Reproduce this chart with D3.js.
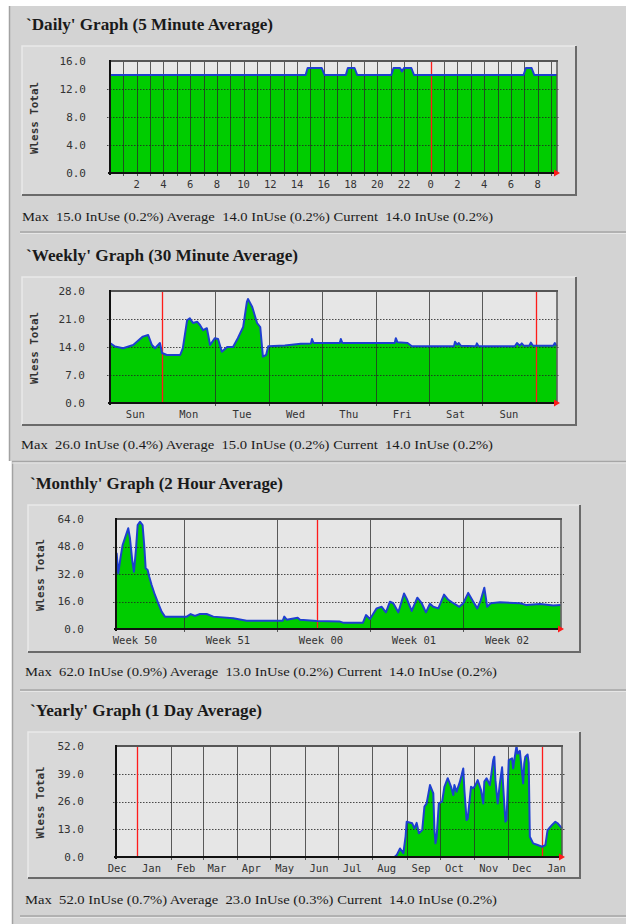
<!DOCTYPE html>
<html>
<head>
<meta charset="utf-8">
<script src="https://cdn.jsdelivr.net/npm/d3@7"></script>
<style>
  html, body { margin: 0; padding: 0; background: #fff; }
  svg { display: block; }
  text { white-space: pre; }
  .mono { font-family: "DejaVu Sans Mono", "Liberation Mono", monospace; }
</style>
</head>
<body>
<svg id="chart" width="626" height="924"></svg>
<script>
// ---------- Daily (5 minute average): hours relative to midnight ----------
const dailyHours  = [-24, -9.36, -9.21, -8.16, -7.94, -6.35, -6.2, -5.7, -5.5, -2.95, -2.78, -2.3, -2.15, -2.0, -1.45, -1.25, 6.95, 7.12, 7.55, 7.75, 9.45];
const dailyValues = [14, 14, 15, 15, 14, 14, 15, 15, 14, 14, 15, 15, 14.5, 15, 15, 14, 14, 15, 15, 14, 14];
const dailyGridHours = d3.range(-23, 10);
const dailyRedHours = [0];
const dailyTickHours = [-22, -20, -18, -16, -14, -12, -10, -8, -6, -4, -2, 0, 2, 4, 6, 8];
const dailyTickLabels = ["2", "4", "6", "8", "10", "12", "14", "16", "18", "20", "22", "0", "2", "4", "6", "8"];
const dailyYTicks = [0, 4, 8, 12, 16];
const dailyStats = [["Max", "15.0", "0.2%"], ["Average", "14.0", "0.2%"], ["Current", "14.0", "0.2%"]];

// ---------- Weekly (30 minute average): days relative to Monday 00:00 ----------
const weeklyDays = [-0.975, -0.88, -0.73, -0.54, -0.36, -0.26, -0.19, -0.13, -0.04, 0.0, 0.09, 0.34, 0.39, 0.47, 0.52, 0.58, 0.66, 0.71, 0.77, 0.84, 0.90, 0.99, 1.05, 1.12, 1.22, 1.33, 1.42, 1.52, 1.59, 1.61, 1.69, 1.78, 1.84, 1.89, 1.95, 1.99, 2.3, 2.6, 2.79, 2.81, 2.84, 3.33, 3.35, 3.38, 4.36, 4.38, 4.41, 4.60, 4.68, 5.47, 5.49, 5.53, 5.56, 5.60, 5.88, 5.90, 5.93, 6.61, 6.65, 6.70, 6.74, 6.78, 6.88, 6.91, 6.95, 7.33, 7.36, 7.395];
const weeklyValues = [15.0, 14.1, 13.7, 14.5, 16.6, 17.0, 14.5, 13.7, 15.0, 12.5, 12.0, 12.0, 13.7, 20.7, 21.2, 20.0, 20.3, 19.5, 18.2, 18.7, 14.5, 16.2, 16.0, 12.8, 14.0, 14.0, 16.2, 19.0, 25.3, 26.0, 24.0, 20.0, 19.0, 11.6, 12.0, 14.2, 14.4, 14.8, 14.9, 16.0, 15.0, 15.0, 16.0, 15.0, 15.0, 16.2, 15.2, 15.0, 14.2, 14.2, 15.3, 14.6, 15.0, 14.3, 14.2, 14.9, 14.2, 14.2, 15.0, 14.3, 14.9, 14.3, 14.3, 15.1, 14.3, 14.3, 15.0, 14.2];
const weeklyGridDays = [1, 2, 3, 4, 5, 6];
const weeklyRedDays = [0, 7];
const weeklyTickDays = [-0.5, 0.5, 1.5, 2.5, 3.5, 4.5, 5.5, 6.5];
const weeklyTickLabels = ["Sun", "Mon", "Tue", "Wed", "Thu", "Fri", "Sat", "Sun"];
const weeklyYTicks = [0, 7, 14, 21, 28];
const weeklyStats = [["Max", "26.0", "0.4%"], ["Average", "15.0", "0.2%"], ["Current", "14.0", "0.2%"]];

// ---------- Monthly (2 hour average): days relative to 1 January ----------
const monthlyDays = [-15.12, -15.07, -14.95, -14.77, -14.62, -14.37, -14.20, -14.07, -13.90, -13.77, -13.62, -13.49, -13.32, -13.12, -12.99, -12.89, -12.74, -12.62, -12.44, -12.19, -11.94, -11.69, -11.44, -9.80, -9.50, -9.18, -8.80, -8.30, -7.80, -6.30, -5.29, -2.58, -2.46, -2.28, -1.45, -1.28, -0.02, 1.73, 1.96, 3.46, 3.69, 3.99, 4.49, 4.87, 5.19, 5.49, 5.74, 6.12, 6.55, 6.79, 7.13, 7.55, 7.88, 8.20, 8.50, 8.75, 9.13, 9.56, 9.88, 10.26, 10.71, 11.01, 11.38, 11.76, 12.06, 12.32, 12.59, 12.81, 13.07, 13.77, 15.27, 15.78, 16.78, 17.78, 18.33];
const monthlyValues = [32.4, 44, 32.4, 42, 48.9, 54.7, 58.6, 52.8, 40.1, 33.3, 46, 60.5, 62.4, 60.5, 47.9, 35.3, 34.3, 30.4, 25.6, 19.8, 14.9, 10.1, 7.2, 7.2, 8.7, 7.6, 8.7, 8.7, 7.2, 6.2, 4.8, 4.8, 7.2, 5.4, 6.6, 5.4, 4.7, 4.3, 3.7, 3.7, 8.1, 5.8, 12, 12.9, 9.7, 15.9, 15, 9.7, 20.7, 17, 10.5, 18.2, 15, 9.7, 14.7, 12.9, 12, 20, 17, 15, 12.9, 15, 21, 15.9, 12, 16.7, 24, 12.9, 15, 15.5, 15, 13.9, 14.5, 13.7, 13.9];
const monthlyGridDays = [-10, -3, 4, 11];
const monthlyRedDays = [0];
const monthlyTickDays = [-13.7, -6.7, 0.3, 7.3, 14.3];
const monthlyTickLabels = ["Week 50", "Week 51", "Week 00", "Week 01", "Week 02"];
const monthlyYTicks = [0, 16, 32, 48, 64];
const monthlyStats = [["Max", "62.0", "0.9%"], ["Average", "13.0", "0.2%"], ["Current", "14.0", "0.2%"]];

// ---------- Yearly (1 day average): days relative to 1 January 2002 ----------
const yearlyDays = [-19, 232, 234, 237, 240, 242, 243, 248, 250, 252, 254, 257, 259, 261, 264, 267, 268, 269, 270, 272, 275, 277, 280, 283, 285, 286, 288, 291, 294, 295, 297, 298, 301, 303, 305, 307, 310, 312, 313, 315, 318, 321, 322, 323, 325, 327, 329, 330, 332, 333, 335, 338, 339, 340, 342, 343, 345, 348, 349, 350, 352, 353, 354, 357, 361, 365, 368, 370, 374, 377, 379, 383];
const yearlyValues = [0, 0, 0.9, 4, 1.8, 9.5, 16.5, 15.8, 13.4, 16, 11.1, 12.6, 23.6, 25.1, 33.7, 29.8, 12.6, 6.4, 9.5, 25.1, 26, 32.9, 36.9, 32.9, 29, 33.7, 30.6, 35.3, 41.5, 31.4, 17.3, 18, 32.9, 32.2, 33.7, 36, 31.4, 25.1, 35.3, 36.9, 33.7, 45.4, 47, 36, 25.1, 34.5, 42, 32.9, 16.5, 17.3, 45.4, 46.2, 41.5, 45.4, 52, 48.4, 49.7, 34.5, 44, 47, 48, 44, 9.5, 6.4, 5.6, 4.8, 5.6, 12.6, 15, 16.5, 15.8, 13.4];
const yearlyTickLabels = ["Dec", "Jan", "Feb", "Mar", "Apr", "May", "Jun", "Jul", "Aug", "Sep", "Oct", "Nov", "Dec", "Jan"];
const yearlyYTicks = [0, 13, 26, 39, 52];
const yearlyStats = [["Max", "52.0", "0.7%"], ["Average", "23.0", "0.3%"], ["Current", "14.0", "0.2%"]];

// ---------- font selection: first installed serif face ----------
function pickFont(candidates, fallback) {
  const ctx = document.createElement("canvas").getContext("2d");
  const probe = "Graph Minute Average InUse 0123456789 wWmMiIl";
  const widthOf = f => { ctx.font = "40px " + f; return ctx.measureText(probe).width; };
  const baseMono = widthOf("monospace"), baseSans = widthOf("sans-serif");
  for (const c of candidates) {
    if (widthOf(`"${c}", monospace`) !== baseMono || widthOf(`"${c}", sans-serif`) !== baseSans) {
      return `"${c}", ${fallback}`;
    }
  }
  return fallback;
}
const SERIF = pickFont(["Liberation Serif", "Tinos", "Times New Roman", "Times", "DejaVu Serif",
  "Noto Serif", "FreeSerif", "Nimbus Roman", "Nimbus Roman No9 L", "Noto Serif CJK SC",
  "Source Han Serif SC", "Bitstream Charter", "Georgia", "URW Bookman"], "serif");

// ---------- drawing ----------
const svg = d3.select("#chart");
const PAGE = "#d3d3d3";
const GREEN = "#00cc00";
const BLUE = "#1e3fd0";
const RED = "#ff1a1a";
const DAY = 864e5;
const yearOrigin = Date.UTC(2002, 0, 1);
const toDate = d => new Date(yearOrigin + d * DAY);

// page: two stacked grey sections on white
svg.append("rect").attr("width", 626).attr("height", 924).attr("fill", "#fff");
svg.append("rect").attr("x", 9).attr("y", 6).attr("width", 617).attr("height", 455).attr("fill", PAGE);
svg.append("rect").attr("x", 12).attr("y", 461).attr("width", 614).attr("height", 463).attr("fill", PAGE);
svg.append("line").attr("x1", 9.5).attr("x2", 9.5).attr("y1", 6).attr("y2", 461)
  .attr("stroke", "#a2a2a2").attr("stroke-width", 1.5);
svg.append("line").attr("x1", 12.5).attr("x2", 12.5).attr("y1", 461).attr("y2", 924)
  .attr("stroke", "#a2a2a2").attr("stroke-width", 1.5);

// horizontal rules between the sections
[[20, 232], [12, 461.5], [20, 690], [20, 916]].forEach(([x0, yy]) => {
  svg.append("line").attr("x1", x0).attr("x2", 626).attr("y1", yy).attr("y2", yy)
    .attr("stroke", "#a6a6a6").attr("stroke-width", 1.5);
  svg.append("line").attr("x1", x0).attr("x2", 626).attr("y1", yy + 1.5).attr("y2", yy + 1.5)
    .attr("stroke", "#e6e6e6").attr("stroke-width", 1);
});

const fmt1 = d3.format(".1f");

function drawPanel(p) {
  const [bx0, by0, bx1, by1] = p.box;
  const [px0, py0, px1, py1] = p.plot;
  const g = svg.append("g");

  // title
  g.append("text").style("font-family", SERIF).attr("x", p.titleX).attr("y", p.titleY)
    .attr("font-weight", "bold").attr("font-size", 16).attr("fill", "#1a1a1a")
    .attr("textLength", p.titleW).attr("lengthAdjust", "spacingAndGlyphs")
    .text(p.title);

  // graph image frame
  g.append("rect").attr("x", bx0).attr("y", by0).attr("width", bx1 - bx0).attr("height", by1 - by0)
    .attr("fill", "#d9d9d9");
  g.append("path").attr("d", `M${bx0},${by1}V${by0}H${bx1}`)
    .attr("fill", "none").attr("stroke", "#e9e9e9").attr("stroke-width", 1.5);
  g.append("path").attr("d", `M${bx0},${by1}H${bx1}V${by0}`)
    .attr("fill", "none").attr("stroke", "#6a6a6a").attr("stroke-width", 2);

  const x = p.x.range([px0, px1]);
  const y = d3.scaleLinear().domain([0, p.yMax]).range([py1, py0]);

  g.append("rect").attr("x", px0).attr("y", py0).attr("width", px1 - px0).attr("height", py1 - py0)
    .attr("fill", "#e6e6e6");

  const pts = p.xs.map((v, i) => ({ x: v, v: p.values[i] }));
  g.append("path").datum(pts)
    .attr("d", d3.area().x(d => x(d.x)).y0(py1).y1(d => y(d.v)))
    .attr("fill", GREEN);

  // vertical grid
  g.selectAll(null).data(p.grid).join("line")
    .attr("x1", d => Math.round(x(d)) + 0.5).attr("x2", d => Math.round(x(d)) + 0.5)
    .attr("y1", py0).attr("y2", py1 + 3)
    .attr("stroke", "#2a2a2a").attr("stroke-opacity", 0.75).attr("stroke-width", 1);

  // horizontal dotted grid
  g.selectAll(null).data(p.yTicks.filter(t => t > 0 && t < p.yMax)).join("line")
    .attr("x1", px0 - 3).attr("x2", px1 + 3)
    .attr("y1", d => Math.round(y(d)) + 0.5).attr("y2", d => Math.round(y(d)) + 0.5)
    .attr("stroke", "#222").attr("stroke-opacity", 0.8).attr("stroke-width", 1.2)
    .attr("stroke-dasharray", "1.5,1.5");

  // red period markers
  g.selectAll(null).data(p.red).join("line")
    .attr("x1", d => Math.round(x(d)) + 0.5).attr("x2", d => Math.round(x(d)) + 0.5)
    .attr("y1", py0).attr("y2", py1)
    .attr("stroke", RED).attr("stroke-width", 1.3);

  // outline of the series
  g.append("path").datum(pts)
    .attr("d", d3.line().x(d => x(d.x)).y(d => y(d.v)))
    .attr("fill", "none").attr("stroke", BLUE).attr("stroke-width", 2)
    .attr("stroke-linejoin", "round");

  // plot frame
  g.append("line").attr("x1", px0).attr("x2", px1 + 1).attr("y1", py0).attr("y2", py0)
    .attr("stroke", "#555").attr("stroke-width", 2);
  g.append("line").attr("x1", px1).attr("x2", px1).attr("y1", py0).attr("y2", py1)
    .attr("stroke", "#555").attr("stroke-width", 1.5);
  g.append("line").attr("x1", px0).attr("x2", px0).attr("y1", py0 - 1).attr("y2", py1 + 2)
    .attr("stroke", "#111").attr("stroke-width", 2);
  g.append("line").attr("x1", px0 - 2).attr("x2", px1).attr("y1", py1).attr("y2", py1)
    .attr("stroke", "#111").attr("stroke-width", 2);

  // end-of-axis arrow
  g.append("path")
    .attr("d", `M${px1 - 3},${py1 - 3.5}L${px1 + 3},${py1}L${px1 - 3},${py1 + 3.5}Z`)
    .attr("fill", RED);

  // y tick labels
  g.selectAll(null).data(p.yTicks).join("text").attr("class", "mono")
    .attr("x", px0 - p.yLabelGap).attr("y", d => y(d)).attr("dy", "0.36em")
    .attr("text-anchor", "end").attr("font-size", 11)
    .attr("fill", "#333").text(d => fmt1(d));

  // x tick labels
  g.selectAll(null).data(p.ticks).join("text").attr("class", "mono")
    .attr("x", d => x(d[0])).attr("y", py1 + 15)
    .attr("text-anchor", "middle").attr("font-size", 10.5)
    .attr("fill", "#333").text(d => d[1]);

  // y axis title
  const cy = (py0 + py1) / 2 + 1;
  g.append("text").attr("class", "mono")
    .attr("transform", `translate(${bx0 + 16},${cy}) rotate(-90)`)
    .attr("text-anchor", "middle")
    .attr("font-weight", "bold").attr("font-size", 10.5)
    .attr("fill", "#333").attr("textLength", 72).attr("lengthAdjust", "spacingAndGlyphs")
    .text("Wless Total");

  // summary line
  const summary = p.stats.map(([k, v, pc]) => `${k}  ${v} InUse (${pc})`).join(" ");
  g.append("text").style("font-family", SERIF).attr("x", p.sumX).attr("y", p.sumY)
    .attr("font-size", 12.5).attr("fill", "#1a1a1a")
    .attr("textLength", p.sumW).attr("lengthAdjust", "spacingAndGlyphs")
    .text(summary);
}

const yearStart = toDate(-19), yearEnd = toDate(383);
const yearMonths = d3.utcMonth.range(d3.utcMonth.floor(yearStart), yearEnd);
const yearRed = yearMonths.filter(d => d.getUTCMonth() === 0);

drawPanel({
  title: "`Daily' Graph (5 Minute Average)", titleX: 26, titleY: 30, titleW: 247,
  box: [22, 46, 576, 195], plot: [110, 61, 557, 173],
  x: d3.scaleLinear().domain([-24, 9.45]),
  xs: dailyHours, values: dailyValues, yMax: 16, yTicks: dailyYTicks,
  grid: dailyGridHours, red: dailyRedHours,
  ticks: dailyTickHours.map((h, i) => [h, dailyTickLabels[i]]),
  yLabelGap: 24, stats: dailyStats, sumX: 22, sumY: 221, sumW: 471
});

drawPanel({
  title: "`Weekly' Graph (30 Minute Average)", titleX: 26, titleY: 261, titleW: 272,
  box: [22, 277, 576, 425], plot: [110, 291, 557, 403],
  x: d3.scaleLinear().domain([-0.975, 7.4]),
  xs: weeklyDays, values: weeklyValues, yMax: 28, yTicks: weeklyYTicks,
  grid: weeklyGridDays, red: weeklyRedDays,
  ticks: weeklyTickDays.map((d, i) => [d, weeklyTickLabels[i]]),
  yLabelGap: 25, stats: weeklyStats, sumX: 21, sumY: 449, sumW: 472
});

drawPanel({
  title: "`Monthly' Graph (2 Hour Average)", titleX: 30, titleY: 489, titleW: 253,
  box: [28, 505, 580, 652], plot: [116, 519, 561, 629],
  x: d3.scaleLinear().domain([-15.12, 18.36]),
  xs: monthlyDays, values: monthlyValues, yMax: 64, yTicks: monthlyYTicks,
  grid: monthlyGridDays, red: monthlyRedDays,
  ticks: monthlyTickDays.map((d, i) => [d, monthlyTickLabels[i]]),
  yLabelGap: 32, stats: monthlyStats, sumX: 25, sumY: 676, sumW: 472
});

drawPanel({
  title: "`Yearly' Graph (1 Day Average)", titleX: 30, titleY: 716, titleW: 232,
  box: [28, 732, 580, 878], plot: [116, 746, 562, 857],
  x: d3.scaleUtc().domain([yearStart, yearEnd]),
  xs: yearlyDays.map(toDate), values: yearlyValues, yMax: 52, yTicks: yearlyYTicks,
  grid: yearMonths.filter(d => d > yearStart && d.getUTCMonth() !== 0), red: yearRed,
  ticks: yearMonths.map((m, i) => [d3.utcDay.offset(m, 13), yearlyTickLabels[i]]),
  yLabelGap: 32, stats: yearlyStats, sumX: 25, sumY: 904, sumW: 472
});
</script>
</body>
</html>
